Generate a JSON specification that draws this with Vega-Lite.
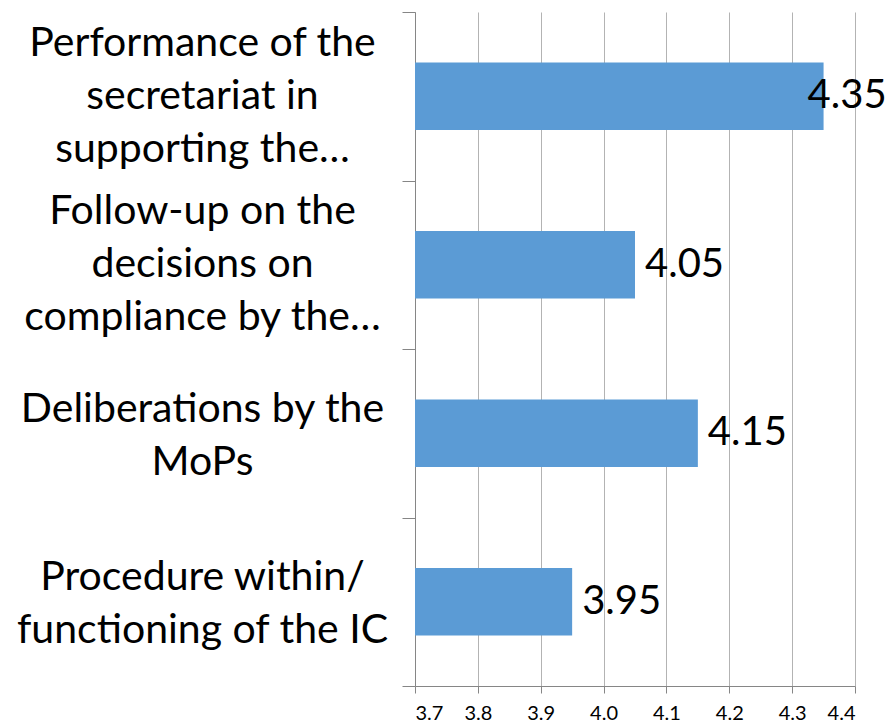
{
  "$schema": "https://vega.github.io/schema/vega-lite/v6.json",
  "autosize": "none",
  "width": 440,
  "height": 674,
  "padding": {"left": 415, "top": 12, "right": 35, "bottom": 40},
  "background": "white",
  "config": {"view": {"stroke": null}, "font": "Lato"},
  "data": {"values": [
    {"item": "Performance of the|secretariat in|supporting the…", "score": 4.35},
    {"item": "Follow-up on the|decisions on|compliance by the…", "score": 4.05},
    {"item": "Deliberations by the|MoPs", "score": 4.15},
    {"item": "Procedure within/|functioning of the IC", "score": 3.95}
  ]},
  "encoding": {
    "y": {
      "field": "item", "type": "nominal", "sort": null,
      "scale": {"paddingInner": 0, "paddingOuter": 0},
      "axis": {
        "title": null, "tickBand": "extent", "grid": false,
        "domainColor": "#868686", "tickColor": "#868686", "tickSize": 13,
        "labelExpr": "split(datum.label, '|')",
        "labelAlign": "center", "labelBaseline": "middle",
        "labelOffset": {"expr": "length(split(datum.value, '|')) > 2 ? -53 : -24"},
        "labelPadding": 200, "labelFontSize": 41, "labelColor": "#000000",
        "labelLineHeight": 53, "labelFont": "Lato", "labelLimit": 0
      }
    }
  },
  "layer": [
    {
      "mark": {"type": "bar", "color": "#5B9BD5", "height": {"band": 0.4}},
      "encoding": {
        "x": {
          "field": "score", "type": "quantitative",
          "scale": {"domain": [3.7, 4.4], "zero": false, "nice": false},
          "axis": {
            "title": null, "values": [3.7, 3.8, 3.9, 4.0, 4.1, 4.2, 4.3, 4.4],
            "format": ".1f", "grid": true, "gridColor": "#B3B3B3",
            "domainColor": "#868686", "tickColor": "#868686", "tickSize": 7,
            "labelFontSize": 20, "labelColor": "#000000", "labelPadding": 10,
            "labelFont": "Lato"
          }
        },
        "x2": {"datum": 3.7}
      }
    },
    {
      "mark": {"type": "text", "align": "left", "baseline": "middle", "fontSize": 40, "color": "#000000",
               "dx": {"expr": "datum.score > 4.3 ? -16 : 10"}},
      "encoding": {
        "x": {"field": "score", "type": "quantitative"},
        "text": {"field": "score", "type": "quantitative", "format": ".2f"}
      }
    }
  ]
}
